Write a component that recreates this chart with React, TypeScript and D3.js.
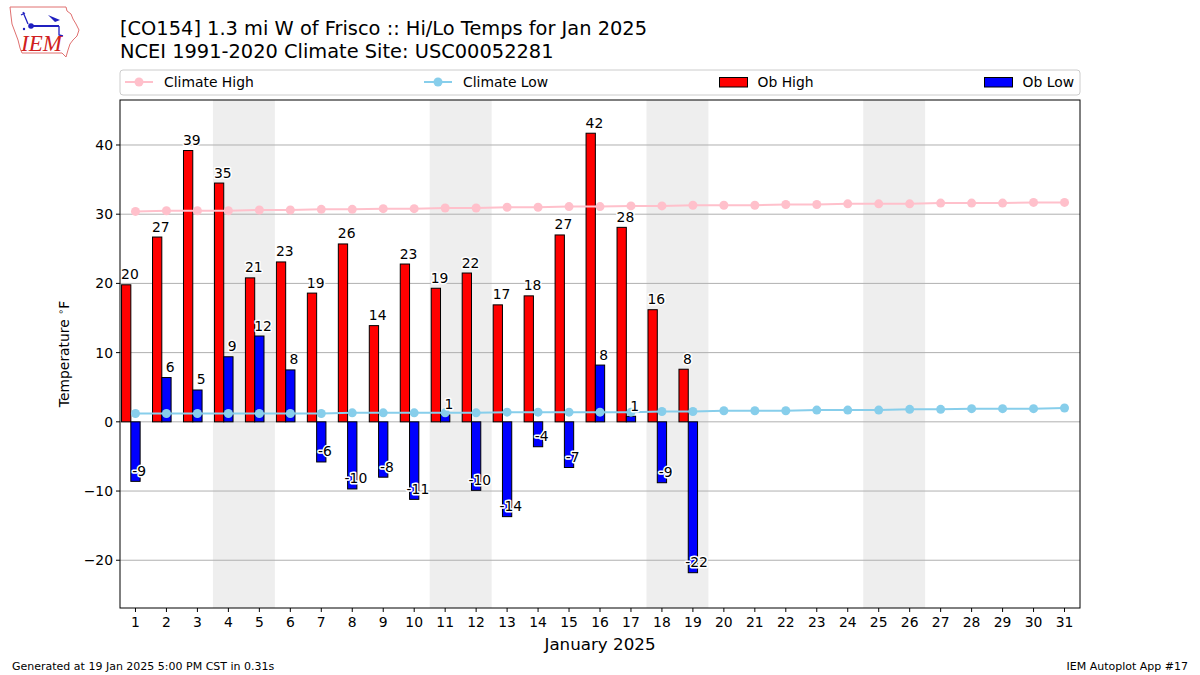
import React, { useEffect, useRef } from 'react';
import * as d3 from 'd3';

// observed values (estimated from the plot), days 1..19
const obsDays = d3.range(1, 20);
const obHigh = [19.8, 26.7, 39.2, 34.5, 20.8, 23.1, 18.6, 25.7, 13.9, 22.8, 19.3, 21.5, 16.9, 18.2, 27.0, 41.7, 28.1, 16.2, 7.6];
const obLow = [-8.6, 6.4, 4.6, 9.4, 12.4, 7.5, -5.8, -9.7, -8.0, -11.2, 1.0, -9.9, -13.7, -3.6, -6.6, 8.2, 0.8, -8.8, -21.8];

// climatology, days 1..31
const days = d3.range(1, 32);
const climHigh = [30.4, 30.5, 30.5, 30.5, 30.6, 30.6, 30.7, 30.7, 30.8, 30.8, 30.9, 30.9, 31.0, 31.0, 31.1, 31.1, 31.2, 31.2, 31.3, 31.3, 31.3, 31.4, 31.4, 31.5, 31.5, 31.5, 31.6, 31.6, 31.6, 31.7, 31.7];
const climLow = [1.2, 1.2, 1.2, 1.2, 1.2, 1.2, 1.2, 1.3, 1.3, 1.3, 1.3, 1.3, 1.4, 1.4, 1.4, 1.4, 1.4, 1.5, 1.5, 1.6, 1.6, 1.6, 1.7, 1.7, 1.7, 1.8, 1.8, 1.9, 1.9, 1.9, 2.0];

const weekends = [[4, 5], [11, 12], [18, 19], [25, 26]];
const yTicks = [-20, -10, 0, 10, 20, 30, 40];

const FONT = "'DejaVu Sans', sans-serif";
const FS = 13.9;

const App: React.FC = () => {
  const svgRef = useRef<SVGSVGElement>(null);

  useEffect(() => {
    document.body.style.margin = '0';
    if (!svgRef.current) return;
    const svg = d3.select(svgRef.current);
    svg.selectAll('*').remove();

    const width = 1200;
    const height = 675;
    const left = 120, right = 1080, top = 100, bottom = 608;

    svg.attr('width', width).attr('height', height).style('font-family', FONT);
    svg.append('rect').attr('width', width).attr('height', height).attr('fill', 'white');

    const x = d3.scaleLinear().domain([0.5, 31.5]).range([left, right]);
    const y = d3.scaleLinear().domain([-26.9, 46.5]).range([bottom, top]);
    const unit = x(1) - x(0);

    // weekend shading
    svg.append('g').selectAll('rect')
      .data(weekends)
      .enter().append('rect')
      .attr('x', d => x(d[0] - 0.5))
      .attr('width', d => x(d[1] + 0.5) - x(d[0] - 0.5))
      .attr('y', top)
      .attr('height', bottom - top)
      .attr('fill', '#eeeeee');

    // grid
    svg.append('g').selectAll('line')
      .data(yTicks)
      .enter().append('line')
      .attr('x1', left).attr('x2', right)
      .attr('y1', d => y(d)).attr('y2', d => y(d))
      .attr('stroke', '#b0b0b0').attr('stroke-width', 1);

    // bars
    const bw = 0.3 * unit;
    svg.append('g').selectAll('rect')
      .data(obsDays)
      .enter().append('rect')
      .attr('x', d => x(d - 0.3) - bw / 2)
      .attr('width', bw)
      .attr('y', (d, i) => Math.min(y(obHigh[i]), y(0)))
      .attr('height', (d, i) => Math.abs(y(obHigh[i]) - y(0)))
      .attr('fill', 'red').attr('stroke', 'black').attr('stroke-width', 1);

    svg.append('g').selectAll('rect')
      .data(obsDays)
      .enter().append('rect')
      .attr('x', d => x(d) - bw / 2)
      .attr('width', bw)
      .attr('y', (d, i) => Math.min(y(obLow[i]), y(0)))
      .attr('height', (d, i) => Math.abs(y(obLow[i]) - y(0)))
      .attr('fill', 'blue').attr('stroke', 'black').attr('stroke-width', 1);

    // climate lines
    const drawClim = (vals: number[], color: string) => {
      const line = d3.line<number>().x((d, i) => x(days[i])).y(d => y(d));
      svg.append('path').datum(vals)
        .attr('d', line)
        .attr('fill', 'none').attr('stroke', color).attr('stroke-width', 2);
      svg.append('g').selectAll('circle')
        .data(vals)
        .enter().append('circle')
        .attr('cx', (d, i) => x(days[i]))
        .attr('cy', d => y(d))
        .attr('r', 4.5)
        .attr('fill', color);
    };
    drawClim(climHigh, 'pink');
    drawClim(climLow, 'skyblue');

    // bar labels
    const fmt = d3.format('.0f');
    const addLabels = (vals: number[], dx: number) => {
      svg.append('g').selectAll('text')
        .data(vals)
        .enter().append('text')
        .attr('x', (d, i) => x(obsDays[i] + dx))
        .attr('y', d => y(d) - 5.5)
        .attr('text-anchor', 'middle')
        .attr('font-size', FS)
        .attr('fill', 'black')
        .attr('stroke', 'white')
        .attr('stroke-width', 3)
        .attr('paint-order', 'stroke')
        .attr('stroke-linejoin', 'round')
        .text(d => fmt(d).replace('\u2212', '-'));
    };
    addLabels(obHigh, -0.18);
    addLabels(obLow, 0.12);

    // frame
    svg.append('rect')
      .attr('x', left).attr('y', top)
      .attr('width', right - left).attr('height', bottom - top)
      .attr('fill', 'none').attr('stroke', 'black').attr('stroke-width', 1);

    // x axis
    const xg = svg.append('g');
    days.forEach(d => {
      xg.append('line')
        .attr('x1', x(d)).attr('x2', x(d))
        .attr('y1', bottom).attr('y2', bottom + 4)
        .attr('stroke', 'black');
      xg.append('text')
        .attr('x', x(d)).attr('y', bottom + 19)
        .attr('text-anchor', 'middle')
        .attr('font-size', FS)
        .text(String(d));
    });

    // y axis
    const yg = svg.append('g');
    yTicks.forEach(t => {
      yg.append('line')
        .attr('x1', left - 4).attr('x2', left)
        .attr('y1', y(t)).attr('y2', y(t))
        .attr('stroke', 'black');
      yg.append('text')
        .attr('x', left - 7).attr('y', y(t) + 5)
        .attr('text-anchor', 'end')
        .attr('font-size', FS)
        .text(t < 0 ? `\u2212${Math.abs(t)}` : String(t));
    });

    const ylab = svg.append('text')
      .attr('transform', `translate(69,${(top + bottom) / 2}) rotate(-90)`)
      .attr('text-anchor', 'middle')
      .attr('font-size', FS);
    ylab.append('tspan').text('Temperature ');
    ylab.append('tspan').attr('font-size', 9.5).attr('dy', -5).text('\u2218');
    ylab.append('tspan').attr('dy', 5).text('F');

    svg.append('text')
      .attr('x', (left + right) / 2).attr('y', bottom + 42)
      .attr('text-anchor', 'middle')
      .attr('font-size', 16.7)
      .text('January 2025');

    // titles
    svg.append('text').attr('x', left).attr('y', 35).attr('font-size', 19.4)
      .text('[CO154] 1.3 mi W of Frisco :: Hi/Lo Temps for Jan 2025');
    svg.append('text').attr('x', left).attr('y', 57.5).attr('font-size', 19.4)
      .text('NCEI 1991-2020 Climate Site: USC00052281');

    // legend
    const lg = svg.append('g');
    lg.append('rect')
      .attr('x', left).attr('y', 70).attr('width', right - left).attr('height', 25)
      .attr('rx', 3).attr('fill', 'white').attr('stroke', '#cccccc');
    const ly = 82;
    const lineItem = (x0: number, color: string, label: string) => {
      lg.append('line').attr('x1', x0).attr('x2', x0 + 28).attr('y1', ly).attr('y2', ly)
        .attr('stroke', color).attr('stroke-width', 2);
      lg.append('circle').attr('cx', x0 + 14).attr('cy', ly).attr('r', 4.5).attr('fill', color);
      lg.append('text').attr('x', x0 + 39).attr('y', ly + 5).attr('font-size', FS).text(label);
    };
    const patchItem = (x0: number, color: string, label: string) => {
      lg.append('rect').attr('x', x0).attr('y', ly - 4.5).attr('width', 28).attr('height', 9.5)
        .attr('fill', color).attr('stroke', 'black').attr('stroke-width', 1);
      lg.append('text').attr('x', x0 + 38).attr('y', ly + 5).attr('font-size', FS).text(label);
    };
    lineItem(125, 'pink', 'Climate High');
    lineItem(424, 'skyblue', 'Climate Low');
    patchItem(719.5, 'red', 'Ob High');
    patchItem(984.5, 'blue', 'Ob Low');

    // footer
    svg.append('text').attr('x', 12).attr('y', 670).attr('font-size', 11)
      .text('Generated at 19 Jan 2025 5:00 PM CST in 0.31s');
    svg.append('text').attr('x', 1188).attr('y', 670).attr('font-size', 11)
      .attr('text-anchor', 'end').text('IEM Autoplot App #17');

    // IEM logo (rough)
    const logo = svg.append('g');
    logo.append('path')
      .attr('d', 'M10,7 L66,7 L67,11 L71,14 L73,19 L76,24 L79,30 L77,36 L73,40 L70,44 L68,50 L66,57 L62,53 L22,53 L20,48 L18,40 L15,32 L12,24 L11,16 Z')
      .attr('fill', 'white').attr('stroke', '#e07070').attr('stroke-width', 1);
    logo.append('line').attr('x1', 31).attr('x2', 59).attr('y1', 26).attr('y2', 26)
      .attr('stroke', '#2020c0').attr('stroke-width', 2);
    logo.append('circle').attr('cx', 31).attr('cy', 26).attr('r', 2.8).attr('fill', '#2020c0');
    logo.append('path').attr('d', 'M48,15 L60,20 L55,22 Z').attr('fill', '#2020c0');
    logo.append('path').attr('d', 'M23,12 L28,24 M21,15 L25,13').attr('stroke', '#2020c0').attr('fill', 'none').attr('stroke-width', 1.3);
    logo.append('path').attr('d', 'M59,26 L59,35 L63,36').attr('stroke', '#2020c0').attr('fill', 'none').attr('stroke-width', 1.3);
    logo.append('circle').attr('cx', 24).attr('cy', 29).attr('r', 1.2).attr('fill', '#2020c0');
    logo.append('text').attr('x', 21).attr('y', 51).attr('font-size', 23)
      .attr('font-family', "'Liberation Serif', serif").attr('font-style', 'italic')
      .attr('fill', '#d02020').text('IEM');
  }, []);

  return <svg ref={svgRef}></svg>;
};

export default App;
